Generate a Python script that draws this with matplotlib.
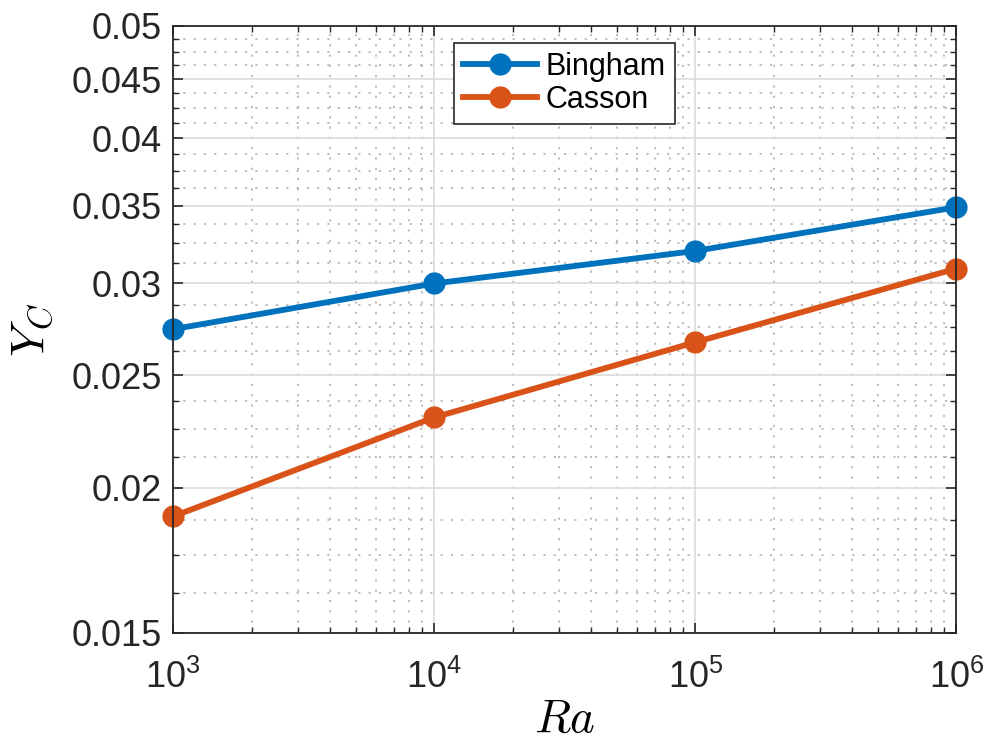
import numpy as np
import matplotlib
matplotlib.use("Agg")
import matplotlib.pyplot as plt
from matplotlib.ticker import FixedLocator, FixedFormatter, NullFormatter

# data
ra = [1e3, 1e4, 1e5, 1e6]
bingham = [0.0274, 0.0300, 0.0320, 0.0349]
casson = [0.0189, 0.0230, 0.0267, 0.0309]

yticks = [0.015, 0.02, 0.025, 0.03, 0.035, 0.04, 0.045, 0.05]
yticklabels = ["0.015", "0.02", "0.025", "0.03", "0.035", "0.04", "0.045", "0.05"]
xticks = [1e3, 1e4, 1e5, 1e6]
xticklabels = [r"$\mathregular{10^{3}}$", r"$\mathregular{10^{4}}$",
               r"$\mathregular{10^{5}}$", r"$\mathregular{10^{6}}$"]

plt.rcParams["font.family"] = ["Liberation Sans", "DejaVu Sans"]

fig = plt.figure(figsize=(9.89, 7.42), dpi=100)
ax = fig.add_axes([0.175, 0.147, 0.792, 0.818])

ax.plot(ra, bingham, "-o", color="#0072BD", lw=4.2, ms=15, label="Bingham", clip_on=False)
ax.plot(ra, casson, "-o", color="#D95319", lw=4.2, ms=15, label="Casson", clip_on=False)

ax.set_xscale("log")
ax.set_yscale("log")
ax.set_xlim(1e3, 1e6)
ax.set_ylim(0.015, 0.05)

ax.yaxis.set_major_locator(FixedLocator(yticks))
ax.yaxis.set_major_formatter(FixedFormatter(yticklabels))
ax.yaxis.set_minor_locator(FixedLocator(np.arange(0.015, 0.05, 0.00125)))
ax.yaxis.set_minor_formatter(NullFormatter())
ax.xaxis.set_major_locator(FixedLocator(xticks))
ax.xaxis.set_major_formatter(FixedFormatter(xticklabels))

ax.tick_params(which="both", direction="in", top=True, right=True, color="#262626")
ax.tick_params(which="major", length=7, width=1.2, labelsize=26, labelcolor="#262626")
ax.tick_params(which="minor", length=4, width=1.0)
ax.tick_params(axis="y", pad=8)
ax.tick_params(axis="x", pad=19)

ax.grid(which="major", color="#dcdcdc", lw=1.2, ls="-")
ax.grid(which="minor", color="#b8b8b8", lw=1.3, ls=(0, (1.2, 4.5)))
ax.set_axisbelow(True)
for s in ax.spines.values():
    s.set_color("#262626")
    s.set_linewidth(1.3)

ax.set_xlabel(r"$Ra$", fontsize=34, math_fontfamily="cm", labelpad=2)
ax.set_ylabel(r"$Y_C$", fontsize=34, math_fontfamily="cm", labelpad=12)

leg = ax.legend(loc="upper center", bbox_to_anchor=(0.5, 0.972), fontsize=22,
                fancybox=False, framealpha=1, edgecolor="#262626",
                borderaxespad=0, handlelength=2.4, handletextpad=0.3,
                borderpad=0.3, labelspacing=0.1)
leg.get_frame().set_linewidth(1.2)

fig.savefig("out.png", dpi=100)
